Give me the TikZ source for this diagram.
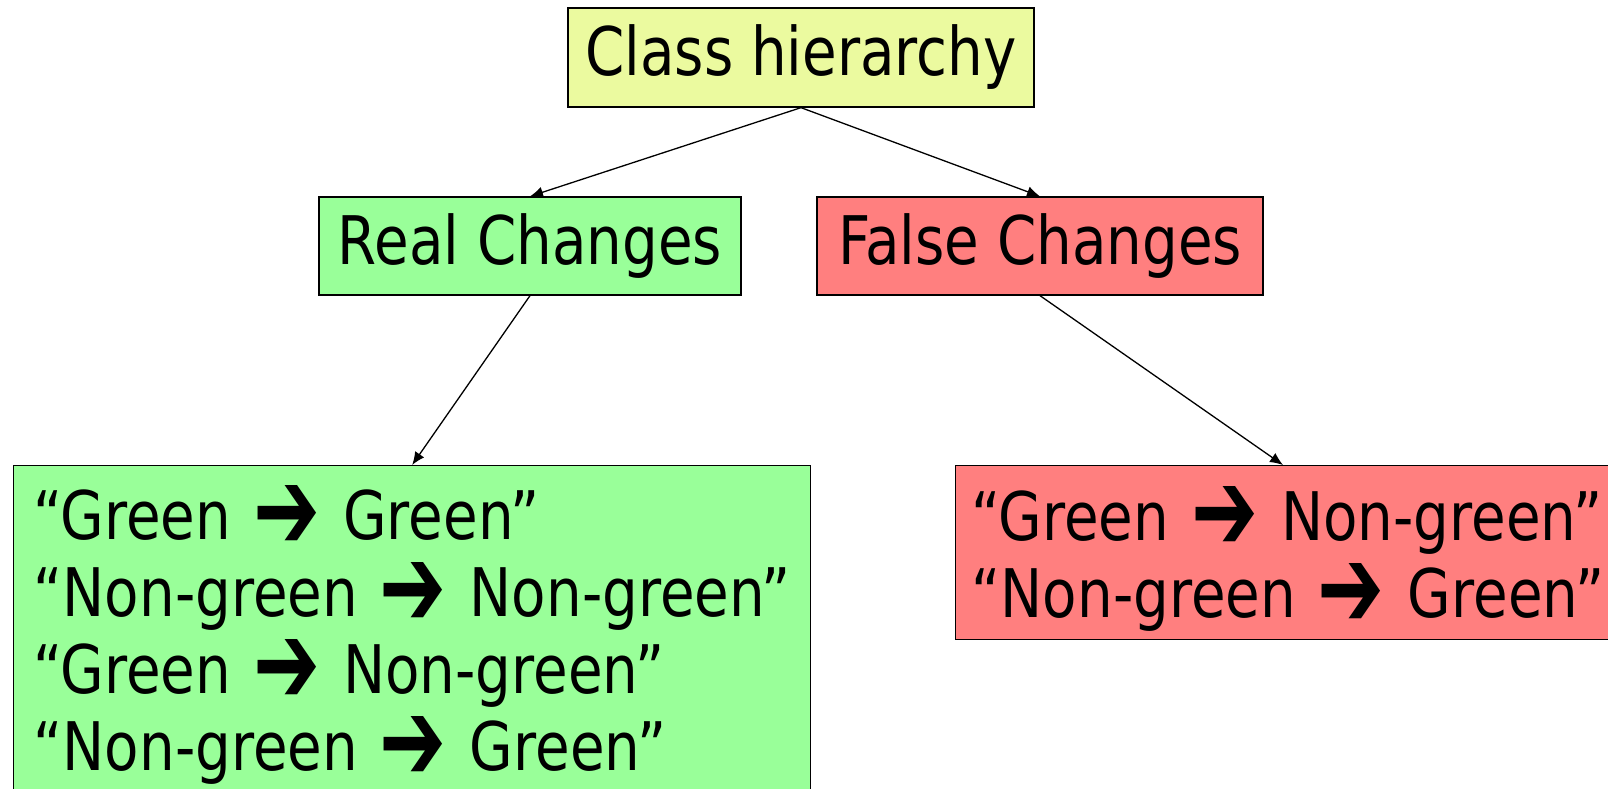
\documentclass[tikz,border=0pt]{standalone}
\usepackage{graphicx}
\usepackage{fontspec}
\setmainfont{DejaVu Sans}[FakeStretch=0.84]
\newfontfamily\symf{DejaVu Sans}
\usetikzlibrary{arrows.meta}
\definecolor{yel}{HTML}{EBFA9F}
\definecolor{grn}{HTML}{99FF99}
\definecolor{rd}{HTML}{FF7F7F}
\newcommand{\ar}{\hspace{22pt}\raisebox{-10pt}[0pt][0pt]{\resizebox{67pt}{64pt}{\symf\char"2794}}\hspace{23pt}}
\begin{document}
\begin{tikzpicture}[x=1pt,y=-1pt,
  box/.style={draw=black, line width=1.3pt, inner sep=0pt, font=\fontsize{67}{77}\selectfont},
  arr/.style={line width=1.3pt, -{Latex[length=13pt,width=11pt]}}]
\useasboundingbox (0,0) rectangle (1608,789);
\node[box, fill=yel, minimum width=466, minimum height=99] (top) at (801,57.5) {Class hierarchy};
\node[box, fill=grn, minimum width=422, minimum height=98] (real) at (530,246) {Real Changes};
\node[box, fill=rd, minimum width=446, minimum height=98] (false) at (1040,246) {False Changes};
\node[box, fill=grn, anchor=north west, text width=757, inner xsep=20, minimum height=330, align=left] (rl) at (13,465)
 {\mbox{\rule{0pt}{63pt}“Green\ar Green”}\\\mbox{“Non-green\ar Non-green”}\\\mbox{“Green\ar Non-green”}\\\mbox{“Non-green\ar Green”}};
\node[box, fill=rd, anchor=north west, text width=648, inner xsep=16, minimum height=174, align=left] (fl) at (955,465)
 {\mbox{\rule{0pt}{67pt}“Green\ar Non-green”}\\\mbox{“Non-green\ar Green”}};
\draw[arr] (top.south) -- (real.north);
\draw[arr] (top.south) -- (false.north);
\draw[arr] (real.south) -- (rl.north);
\draw[arr] (false.south) -- ([xshift=328]fl.north west);
\end{tikzpicture}
\end{document}
